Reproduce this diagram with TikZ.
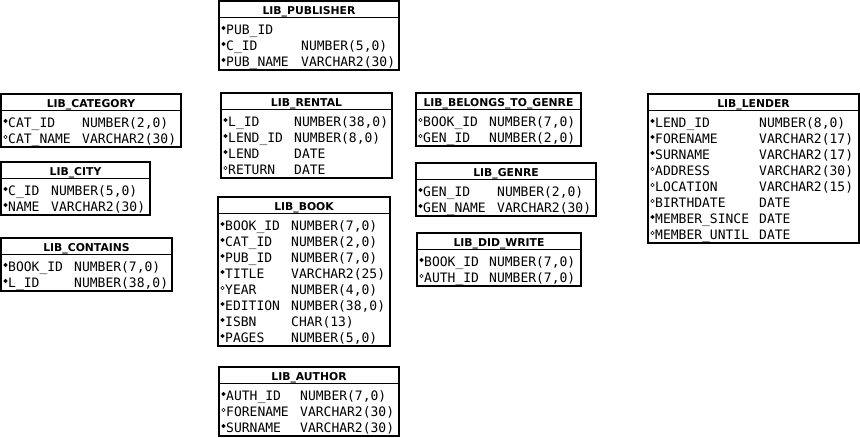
\documentclass[tikz,border=0pt]{standalone}
\usepackage{fontspec}
\setmainfont{DejaVu Sans}
\newfontfamily\monof{DejaVu Sans Mono}
\tikzset{
  x=1pt, y=-1pt,
  tbl/.style={draw, line width=1.8pt, anchor=north west, inner sep=0pt, outer sep=0pt},
  sepline/.style={line width=1.4pt},
  ttl/.style={font=\bfseries\fontsize{10.8}{12}\selectfont, anchor=base, inner sep=0pt},
  col/.style={font=\monof\fontsize{13}{15}\selectfont, anchor=base west, inner sep=0pt},
  mk/.style={line width=0.55pt, draw=black},
}
% id, title, left, top, right, type x, number of rows, rows
\newcommand\ertable[8]{%
  \pgfmathsetmacro\ertw{#5-#3}%
  \pgfmathsetmacro\erth{16.5+4.5+16*#7}%
  \node[tbl, minimum width=\ertw pt, minimum height=\erth pt] (#1) at (#3,#4) {};
  \draw[sepline] (#3,#4+16.5) -- (#5,#4+16.5);
  \node[ttl] (#1-title) at ({(#3+#5)/2},#4+13.5) {#2};
  \foreach \m/\n/\t [count=\k] in {#8} {
    \pgfmathsetmacro\eryy{#4+16.5+11.5+16*(\k-1)}
    \filldraw[mk, fill=\m] (#3+4.5,\eryy-1) circle (1.8pt);
    \node[col] (#1-n\k) at (#3+7,\eryy+5.5) {\n};
    \node[col] (#1-t\k) at (#6,\eryy+5.5) {\t};
  }
}
\begin{document}
\begin{tikzpicture}
\useasboundingbox (0,0) rectangle (860,438);
\ertable{pub}{LIB\_PUBLISHER}{219}{1}{399}{301}{3}{black/PUB\_ID/{}, black/C\_ID/{NUMBER(5,0)}, black/PUB\_NAME/{VARCHAR2(30)}}
\ertable{cat}{LIB\_CATEGORY}{1}{94}{181}{82}{2}{black/CAT\_ID/{NUMBER(2,0)}, white/CAT\_NAME/{VARCHAR2(30)}}
\ertable{city}{LIB\_CITY}{1}{162}{150}{51}{2}{black/C\_ID/{NUMBER(5,0)}, black/NAME/{VARCHAR2(30)}}
\ertable{cont}{LIB\_CONTAINS}{1}{238}{172}{74}{2}{black/BOOK\_ID/{NUMBER(7,0)}, black/L\_ID/{NUMBER(38,0)}}
\ertable{rent}{LIB\_RENTAL}{221}{93}{392}{294}{4}{black/L\_ID/{NUMBER(38,0)}, black/LEND\_ID/{NUMBER(8,0)}, black/LEND/{DATE}, white/RETURN/{DATE}}
\ertable{book}{LIB\_BOOK}{218}{197}{390}{291}{8}{black/BOOK\_ID/{NUMBER(7,0)}, black/CAT\_ID/{NUMBER(2,0)}, black/PUB\_ID/{NUMBER(7,0)}, black/TITLE/{VARCHAR2(25)}, white/YEAR/{NUMBER(4,0)}, black/EDITION/{NUMBER(38,0)}, black/ISBN/{CHAR(13)}, black/PAGES/{NUMBER(5,0)}}
\ertable{auth}{LIB\_AUTHOR}{219}{367}{399}{300}{3}{black/AUTH\_ID/{NUMBER(7,0)}, white/FORENAME/{VARCHAR2(30)}, black/SURNAME/{VARCHAR2(30)}}
\ertable{btg}{LIB\_BELONGS\_TO\_GENRE}{416}{93}{581}{489}{2}{white/BOOK\_ID/{NUMBER(7,0)}, white/GEN\_ID/{NUMBER(2,0)}}
\ertable{genre}{LIB\_GENRE}{416}{163}{596}{497}{2}{black/GEN\_ID/{NUMBER(2,0)}, black/GEN\_NAME/{VARCHAR2(30)}}
\ertable{dw}{LIB\_DID\_WRITE}{417}{233}{581}{489}{2}{black/BOOK\_ID/{NUMBER(7,0)}, white/AUTH\_ID/{NUMBER(7,0)}}
\ertable{lend}{LIB\_LENDER}{648}{94}{859}{759}{8}{black/LEND\_ID/{NUMBER(8,0)}, black/FORENAME/{VARCHAR2(17)}, black/SURNAME/{VARCHAR2(17)}, white/ADDRESS/{VARCHAR2(30)}, white/LOCATION/{VARCHAR2(15)}, white/BIRTHDATE/{DATE}, black/MEMBER\_SINCE/{DATE}, white/MEMBER\_UNTIL/{DATE}}
\end{tikzpicture}
\end{document}
